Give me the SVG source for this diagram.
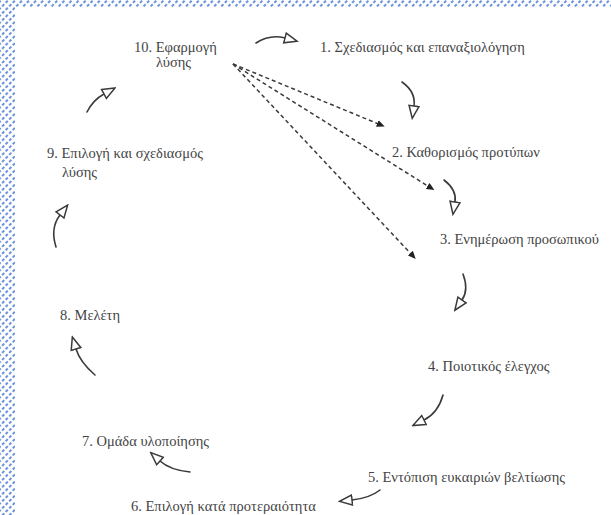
<svg xmlns="http://www.w3.org/2000/svg" width="611" height="515" viewBox="0 0 611 515">
<style>
  text { font-family: 'Liberation Serif', 'DejaVu Serif', serif; font-size: 14.5px; fill: #444444; }
  .c { fill: none; stroke: #3a3a3a; stroke-width: 1.6; stroke-linecap: round; }
  .d { fill: none; stroke: #3a3a3a; stroke-width: 1.5; stroke-dasharray: 4 3; }
</style>
<defs>
  <pattern id="hatch" width="5" height="5" patternUnits="userSpaceOnUse" patternTransform="rotate(45)">
    <rect width="5" height="5" fill="#ffffff"/>
    <rect x="0" y="0" width="2" height="3" fill="#6b93dc"/>
  </pattern>
  <marker id="open" viewBox="0 0 15 13" refX="1" refY="6.5" markerWidth="15" markerHeight="13" markerUnits="userSpaceOnUse" orient="auto">
    <path d="M1,1.5 L13.5,6.5 L1,11.5 Z" fill="#ffffff" stroke="#3a3a3a" stroke-width="1.5"/>
  </marker>
  <marker id="solid" viewBox="0 0 8 8" refX="4" refY="4" markerWidth="8" markerHeight="8" markerUnits="userSpaceOnUse" orient="auto">
    <path d="M0,0.5 L8,4 L0,7.5 Z" fill="#222"/>
  </marker>
</defs>
<rect width="611" height="515" fill="#ffffff"/>
<rect x="0" y="0" width="611" height="7" fill="url(#hatch)"/>
<rect x="0" y="0" width="15" height="515" fill="url(#hatch)"/>

<g id="connectors">
  <path class="c" d="M256,43 Q270,34 285,38" marker-end="url(#open)"/>
  <path class="c" d="M402,82 Q416,92 414,106" marker-end="url(#open)"/>
  <path class="c" d="M444,180 Q457,190 455,202" marker-end="url(#open)"/>
  <path class="c" d="M463,274 Q469,290 462,300" marker-end="url(#open)"/>
  <path class="c" d="M443,395 Q438,413 424,420" marker-end="url(#open)"/>
  <path class="c" d="M380,490 Q370,498 352,500" marker-end="url(#open)"/>
  <path class="c" d="M190,472 Q170,470 160,461" marker-end="url(#open)"/>
  <path class="c" d="M95,375 Q80,362 76,349" marker-end="url(#open)"/>
  <path class="c" d="M56,247 Q50,228 60,215" marker-end="url(#open)"/>
  <path class="c" d="M87,112 Q93,100 104,94" marker-end="url(#open)"/>
  <path class="d" d="M233,64 L381,125" marker-end="url(#solid)"/>
  <path class="d" d="M233,64 L431,188" marker-end="url(#solid)"/>
  <path class="d" d="M233,64 L413,256" marker-end="url(#solid)"/>
</g>

<g id="n10"><text x="134" y="52">10. Εφαρμογή</text><text x="156" y="67">λύσης</text></g>
<g id="n1"><text x="320" y="52">1. Σχεδιασμός και επαναξιολόγηση</text></g>
<g id="n2"><text x="392" y="157">2. Καθορισμός προτύπων</text></g>
<g id="n3"><text x="440" y="244">3. Ενημέρωση προσωπικού</text></g>
<g id="n4"><text x="428" y="371">4. Ποιοτικός έλεγχος</text></g>
<g id="n5"><text x="368" y="482">5. Εντόπιση ευκαιριών βελτίωσης</text></g>
<g id="n6"><text x="131" y="511">6. Επιλογή κατά προτεραιότητα</text></g>
<g id="n7"><text x="82" y="446">7. Ομάδα υλοποίησης</text></g>
<g id="n8"><text x="60" y="320">8. Μελέτη</text></g>
<g id="n9"><text x="47" y="158">9. Επιλογή και σχεδιασμός</text><text x="62" y="177">λύσης</text></g>
</svg>
